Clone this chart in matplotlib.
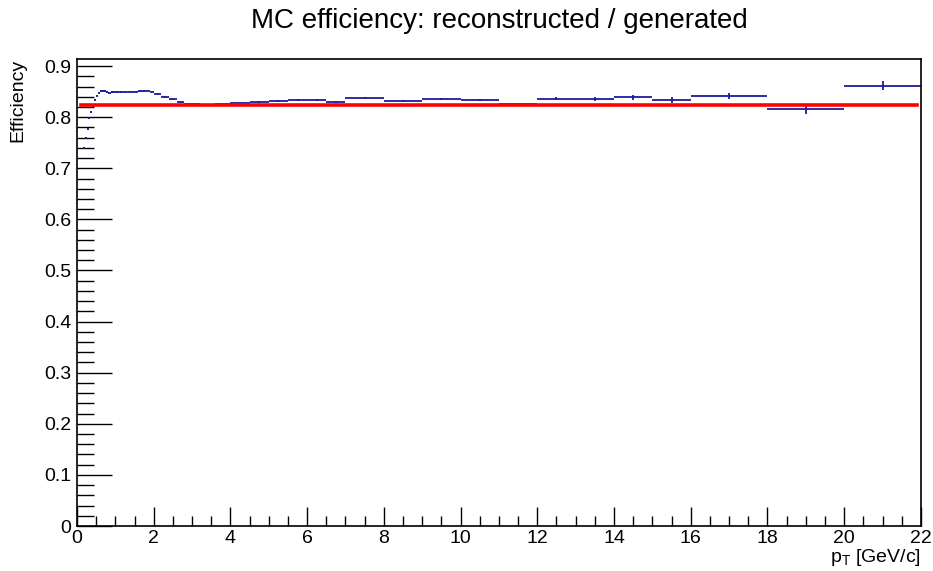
import matplotlib
matplotlib.use('Agg')
import matplotlib.pyplot as plt
import numpy as np
from matplotlib.ticker import MultipleLocator

plt.rcParams['font.family'] = ['Liberation Sans', 'DejaVu Sans']
plt.rcParams['mathtext.fontset'] = 'custom'
plt.rcParams['mathtext.rm'] = 'Liberation Sans'
plt.rcParams['mathtext.it'] = 'Liberation Sans'
plt.rcParams['mathtext.default'] = 'regular'

# bin edges (variable binning)
bin_edges = [0.15, 0.20, 0.25, 0.30, 0.35, 0.40, 0.45, 0.50, 0.55, 0.60, 0.65, 0.70,
             0.75, 0.80, 0.85, 0.90, 0.95, 1.0,
             1.1, 1.2, 1.3, 1.4, 1.5, 1.6, 1.7, 1.8, 1.9, 2.0,
             2.2, 2.4, 2.6, 2.8, 3.0, 3.2, 3.4, 3.6, 3.8, 4.0,
             4.5, 5.0, 5.5, 6.0, 6.5, 7.0,
             8.0, 9.0, 10.0, 11.0, 12.0, 13.0, 14.0, 15.0, 16.0,
             18.0, 20.0, 22.0]

efficiency = [0.739, 0.759, 0.776, 0.798, 0.810, 0.821, 0.834, 0.842, 0.848, 0.851, 0.852,
              0.851, 0.849, 0.848, 0.848, 0.849, 0.849,
              0.849, 0.849, 0.850, 0.850, 0.850, 0.850, 0.851, 0.851, 0.852, 0.850,
              0.845, 0.840, 0.835, 0.829, 0.8265, 0.825, 0.8245, 0.8245, 0.826, 0.8265,
              0.828, 0.830, 0.832, 0.834, 0.834, 0.830,
              0.838, 0.832, 0.836, 0.834, 0.825, 0.836, 0.835, 0.839, 0.833,
              0.841, 0.816, 0.862]

eff_err = [0.002, 0.002, 0.002, 0.002, 0.002, 0.0015, 0.0015, 0.0015, 0.0015, 0.0015, 0.0015,
           0.0015, 0.0015, 0.0015, 0.0015, 0.0015, 0.0015,
           0.0015, 0.0015, 0.0015, 0.0015, 0.0015, 0.0015, 0.0015, 0.0015, 0.0015, 0.0015,
           0.0015, 0.0015, 0.0015, 0.0015, 0.0015, 0.0015, 0.0015, 0.0015, 0.0015, 0.0015,
           0.0015, 0.0015, 0.0015, 0.002, 0.002, 0.002,
           0.002, 0.002, 0.0025, 0.0025, 0.003, 0.003, 0.004, 0.005, 0.006,
           0.006, 0.009, 0.009]

fit_value = 0.823
fit_range = [0.1, 21.9]

edges = np.array(bin_edges)
centers = 0.5 * (edges[1:] + edges[:-1])
halfw = 0.5 * (edges[1:] - edges[:-1])

fig = plt.figure(figsize=(9.33, 5.71), dpi=100)
ax = fig.add_axes([0.0825, 0.0788, 0.9045, 0.818])

ax.errorbar(centers, efficiency, xerr=halfw, yerr=eff_err, fmt='none',
            ecolor='#1c1c9c', elinewidth=1.3, capsize=0, zorder=2)
ax.plot(fit_range, [fit_value, fit_value], color='#ff0000', linewidth=2.6, zorder=3)

ax.set_xlim(0, 22)
ax.set_ylim(0, 0.914)

ax.xaxis.set_major_locator(MultipleLocator(2))
ax.xaxis.set_minor_locator(MultipleLocator(0.5))
ax.yaxis.set_minor_locator(MultipleLocator(0.02))
ax.set_yticks(np.arange(0, 0.95, 0.1))
ax.set_yticklabels(['0'] + ['%.1f' % v for v in np.arange(0.1, 0.95, 0.1)])

ax.tick_params(which='both', direction='in', top=False, right=False,
               labelsize=14, width=1, color='black')
ax.tick_params(axis='x', which='major', length=14, pad=3)
ax.tick_params(axis='x', which='minor', length=7)
ax.tick_params(axis='y', which='major', length=25, pad=4)
ax.tick_params(axis='y', which='minor', length=12.5)
for s in ax.spines.values():
    s.set_linewidth(1.2)

ax.set_xlabel(r'$p_{T}$ [GeV/c]', fontsize=14, loc='right', labelpad=0)
ax.set_ylabel('Efficiency', fontsize=14, loc='top')
ax.yaxis.set_label_coords(-0.060, 1.0)

fig.text(0.535, 0.963, 'MC efficiency: reconstructed / generated',
         fontsize=20, ha='center', va='center')

fig.savefig('out.png', dpi=100)
